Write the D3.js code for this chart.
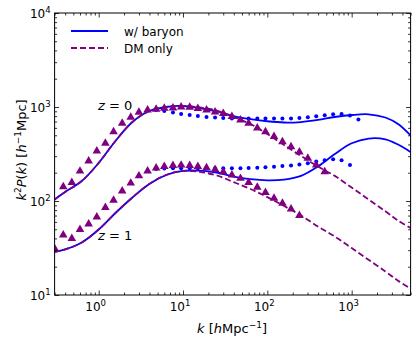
<!DOCTYPE html>
<html>
<head>
<meta charset="utf-8">
<script src="https://cdn.jsdelivr.net/npm/d3@7"></script>
<style>
  body { margin: 0; background: #fff; }
  svg { display: block; }
  text { font-family: "DejaVu Sans", sans-serif; fill: #000; }
</style>
</head>
<body>
<svg id="chart" width="416" height="344"></svg>
<script>
// k grid for the smooth model curves
const kLine = [0.3, 0.4, 0.63, 1, 1.58, 2.51, 3.98, 6.31, 10, 15.8, 25.1, 39.8, 63.1, 100, 158, 251, 398, 631, 1000, 1585, 2512, 3548, 5000];

// model curves (k^2 P(k))
const baryonZ0 = [104, 125, 163, 254, 435, 692, 906, 1000, 1025, 976, 896, 802, 745, 705, 684, 692, 728, 783, 822, 836, 773, 659, 498];
const dmZ0     = [104, 125, 163, 254, 435, 692, 906, 1000, 1025, 988, 918, 783, 659, 516, 394, 301, 233, 185, 139, 104, 77.7, 62, 51.6];
const baryonZ1 = [28.7, 30.5, 36.2, 49.8, 74.5, 109, 152, 189, 209, 210, 201, 182, 171, 166, 169, 185, 233, 316, 411, 462, 453, 399, 332];
const dmZ1     = [28.7, 30.5, 36.2, 49.8, 74.5, 109, 152, 189, 209, 204, 187, 159, 134, 110, 88.5, 70.1, 53.6, 41.9, 31.6, 23.7, 17.8, 14.2, 11.7];

// k values of the simulation points
const kMarks = [0.30, 0.38, 0.48, 0.60, 0.76, 0.95, 1.2, 1.5, 1.9, 2.4, 3.0, 3.8, 4.8, 6.0, 7.6, 9.5, 12, 15, 19, 24, 30, 38, 48, 60, 76, 95, 120, 151, 191, 240, 302, 380, 479, 603, 759, 955, 1202, 1514];

// DM-only simulation (triangles)
const triZ0 = [142, 157, 208, 267, 340, 411, 546, 671, 777, 879, 929, 946, 969, 976, 1000, 995, 964, 929, 885, 853, 792, 727, 671, 598, 546, 485, 428, 378, 332, 285, 241, 205];
const triZ1 = [31.2, 43.5, 39.9, 49.8, 56.9, 67.6, 85.3, 102, 128, 155, 185, 209, 224, 233, 239, 241, 239, 233, 226, 216, 204, 189, 174, 157, 140, 123, 107, 94.6, 82.2, 70.1];

// baryon simulation (dots)
const dotZ0 = [929, 906, 874, 843, 822, 802, 783, 773, 764, 755, 755, 755, 755, 755, 755, 755, 755, 764, 777, 797, 816, 836, 843, 812, 736];
const dotZ1 = [219, 222, 223, 223, 223, 223, 223, 223, 223, 223, 223, 224, 226, 228, 232, 236, 238, 245, 252, 263, 271, 278, 271, 241];

const xTicks = [1, 10, 100, 1000];
const xExp = ['0', '1', '2', '3'];
const yTicks = [10, 100, 1000, 10000];
const yExp = ['1', '2', '3', '4'];

const blue = '#0000ff';
const purple = '#800080';

const margin = { left: 54.6, right: 5.4, top: 13, bottom: 49 };
const W = 416, H = 344;
const svg = d3.select('#chart');

const x = d3.scaleLog().domain([0.3, 5000]).range([margin.left, W - margin.right]);
const y = d3.scaleLog().domain([10, 10000]).range([H - margin.bottom, margin.top]);

function minorTicks(lo, hi) {
  let out = [];
  for (let e = Math.floor(Math.log10(lo)); e <= Math.ceil(Math.log10(hi)); e++) {
    for (let m = 2; m <= 9; m++) {
      let v = m * Math.pow(10, e);
      if (v >= lo && v <= hi) out.push(v);
    }
  }
  return out;
}

svg.append('clipPath').attr('id', 'clip')
  .append('rect')
  .attr('x', x.range()[0]).attr('y', margin.top)
  .attr('width', x.range()[1] - x.range()[0])
  .attr('height', H - margin.bottom - margin.top);

const plot = svg.append('g').attr('clip-path', 'url(#clip)');

const line = d3.line()
  .x((d) => x(d[0]))
  .y((d) => y(d[1]))
  .curve(d3.curveCatmullRom.alpha(0.5));

function drawLine(vals, color, dashed) {
  plot.append('path')
    .attr('d', line(kLine.map((k, i) => [k, vals[i]])))
    .attr('fill', 'none')
    .attr('stroke', color)
    .attr('stroke-width', 1.8)
    .attr('stroke-dasharray', dashed ? '6,3' : null);
}

drawLine(baryonZ0, blue, false);
drawLine(baryonZ1, blue, false);
drawLine(dmZ0, purple, true);
drawLine(dmZ1, purple, true);

// points
const tri = d3.symbol().type(d3.symbolTriangle).size(32);
function drawTris(vals, start) {
  vals.forEach((v, i) => {
    plot.append('path')
      .attr('d', tri())
      .attr('transform', `translate(${x(kMarks[start + i])},${y(v)})`)
      .attr('fill', purple);
  });
}
function drawDots(vals, start) {
  vals.forEach((v, i) => {
    plot.append('circle')
      .attr('cx', x(kMarks[start + i]))
      .attr('cy', y(v))
      .attr('r', 2)
      .attr('fill', blue);
  });
}
drawDots(dotZ0, 12);
drawDots(dotZ1, 12);
drawTris(triZ0, 1);
drawTris(triZ1, 0);

// axes, ticks pointing inward on all four sides
const xb = H - margin.bottom, xt = margin.top;
const yl = x.range()[0], yr = x.range()[1];
const xMinor = minorTicks(0.3, 5000);
const yMinor = minorTicks(10, 10000);

function addAxis(axisFn, scale, tr, majors, minors) {
  svg.append('g').attr('transform', tr)
    .call(axisFn(scale).tickValues(majors).tickSize(-4.5).tickFormat(''))
    .call((g) => g.select('.domain').remove());
  svg.append('g').attr('transform', tr)
    .call(axisFn(scale).tickValues(minors).tickSize(-2.5).tickFormat(''))
    .call((g) => g.select('.domain').remove());
}
addAxis(d3.axisBottom, x, `translate(0,${xb})`, xTicks, xMinor);
addAxis(d3.axisTop, x, `translate(0,${xt})`, xTicks, xMinor);
addAxis(d3.axisLeft, y, `translate(${yl},0)`, yTicks, yMinor);
addAxis(d3.axisRight, y, `translate(${yr},0)`, yTicks, yMinor);
svg.selectAll('.tick line').attr('stroke', '#000').attr('stroke-width', 0.8);

svg.append('rect')
  .attr('x', yl).attr('y', xt)
  .attr('width', yr - yl).attr('height', xb - xt)
  .attr('fill', 'none').attr('stroke', '#000').attr('stroke-width', 1);

// tick labels
xTicks.forEach((t, i) => {
  let txt = svg.append('text')
    .attr('x', x(t) - 3).attr('y', xb + 16)
    .attr('text-anchor', 'middle')
    .attr('font-size', 12);
  txt.append('tspan').text('10');
  txt.append('tspan').attr('dy', -5).attr('font-size', 8.5).text(xExp[i]);
});
yTicks.forEach((t, i) => {
  let txt = svg.append('text')
    .attr('x', yl - 4).attr('y', y(t) + 5)
    .attr('text-anchor', 'end')
    .attr('font-size', 12);
  txt.append('tspan').text('10');
  txt.append('tspan').attr('dy', -5).attr('font-size', 8.5).text(yExp[i]);
});

// axis titles
let xl = svg.append('text')
  .attr('x', 232).attr('y', 333)
  .attr('text-anchor', 'middle')
  .attr('font-size', 13);
xl.append('tspan').attr('font-style', 'italic').text('k');
xl.append('tspan').text(' [');
xl.append('tspan').attr('font-style', 'italic').text('h');
xl.append('tspan').text('Mpc');
xl.append('tspan').attr('dy', -5).attr('font-size', 9).text('−1');
xl.append('tspan').attr('dy', 5).text(']');

let ylab = svg.append('text')
  .attr('transform', 'translate(26,150) rotate(-90)')
  .attr('text-anchor', 'middle')
  .attr('font-size', 13);
ylab.append('tspan').attr('font-style', 'italic').text('k');
ylab.append('tspan').attr('dy', -5).attr('font-size', 9).text('2');
ylab.append('tspan').attr('dy', 5).attr('font-style', 'italic').text('P');
ylab.append('tspan').text('(');
ylab.append('tspan').attr('font-style', 'italic').text('k');
ylab.append('tspan').text(') [');
ylab.append('tspan').attr('font-style', 'italic').text('h');
ylab.append('tspan').attr('dy', -5).attr('font-size', 9).text('−1');
ylab.append('tspan').attr('dy', 5).text('Mpc]');

// redshift labels
function zLabel(xp, yp, z) {
  let t = svg.append('text').attr('x', xp).attr('y', yp).attr('font-size', 13).attr('fill', '#222');
  t.append('tspan').attr('font-style', 'italic').text('z');
  t.append('tspan').text(' = ' + z);
}
zLabel(98, 110, '0');
zLabel(98, 240, '1');

// legend
const legend = [
  { label: 'w/ baryon', color: blue, dash: null },
  { label: 'DM only', color: purple, dash: '6,3' },
];
legend.forEach((d, i) => {
  let ly = 31 + i * 17;
  svg.append('line')
    .attr('x1', 71).attr('x2', 108).attr('y1', ly).attr('y2', ly)
    .attr('stroke', d.color).attr('stroke-width', 1.8)
    .attr('stroke-dasharray', d.dash);
  svg.append('text')
    .attr('x', 124).attr('y', ly + 5)
    .attr('font-size', 12)
    .text(d.label);
});
</script>
</body>
</html>
